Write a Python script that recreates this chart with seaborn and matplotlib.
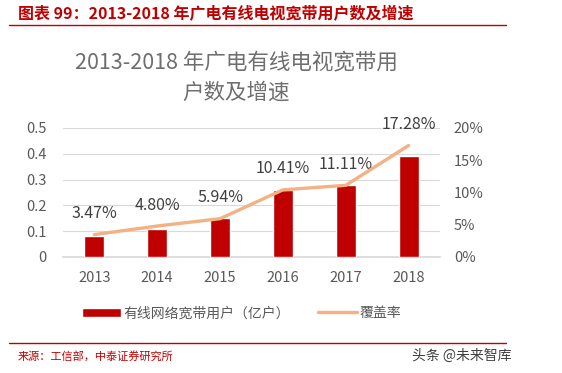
import matplotlib
matplotlib.use("Agg")
import matplotlib.pyplot as plt
import seaborn as sns
import pandas as pd
from matplotlib.patches import Patch
from matplotlib.lines import Line2D

# Dados
anos = ["2013", "2014", "2015", "2016", "2017", "2018"]
usuarios = [0.08, 0.11, 0.15, 0.26, 0.28, 0.39]          # 亿户
cobertura = [3.47, 4.80, 5.94, 10.41, 11.11, 17.28]      # %
ticks_esq = [0, 0.1, 0.2, 0.3, 0.4, 0.5]
ticks_esq_txt = ["0", "0.1", "0.2", "0.3", "0.4", "0.5"]
ticks_dir = [0, 5, 10, 15, 20]

df = pd.DataFrame({"ano": anos, "usuarios": usuarios, "cobertura": cobertura})

sns.set_theme(style="white")
plt.rcParams["font.family"] = ["Noto Sans CJK SC", "DejaVu Sans"]

cinza = "#595959"
vermelho = "#C00000"
laranja = "#F4B183"

fig = plt.figure(figsize=(5.62, 3.73), dpi=100)
ax = fig.add_axes([0.112, 0.311, 0.671, 0.346])

sns.barplot(data=df, x="ano", y="usuarios", color=vermelho, width=0.32,
            saturation=1, ax=ax, zorder=3)
ax.set_ylim(0, 0.5)
ax.set_yticks(ticks_esq)
ax.set_yticklabels(ticks_esq_txt)
ax.grid(True, axis="y", color="#D9D9D9", linewidth=0.8, zorder=0)
ax.set_axisbelow(True)
ax.set_xlabel("")
ax.set_ylabel("")
ax.set_xlim(-0.5, 5.5)
for s in ["top", "right", "left"]:
    ax.spines[s].set_visible(False)
ax.spines["bottom"].set_color("#D9D9D9")
ax.tick_params(axis="both", length=0, labelsize=10.5, colors=cinza)
ax.tick_params(axis="x", pad=10)
ax.tick_params(axis="y", pad=12)

ax2 = ax.twinx()
sns.lineplot(x=list(range(len(anos))), y=cobertura, color=laranja, linewidth=2.4,
             ax=ax2, zorder=4)
ax2.set_ylim(0, 20)
ax2.set_yticks(ticks_dir)
ax2.set_yticklabels([f"{t}%" for t in ticks_dir])
ax2.tick_params(axis="y", length=0, labelsize=10.5, colors=cinza, pad=10)
for s in ["top", "right", "left", "bottom"]:
    ax2.spines[s].set_visible(False)
ax2.grid(False)

for i, v in enumerate(cobertura):
    ax2.annotate(f"{v:.2f}%", (i, v), xytext=(0, 15), textcoords="offset points",
                 ha="center", va="center", fontsize=11.5, color="#404040")

# Títulos
fig.text(0.032, 0.962, "图表 99：2013-2018 年广电有线电视宽带用户数及增速",
         fontsize=11.5, fontweight="bold", style="italic", color=vermelho,
         ha="left", va="center")
fig.add_artist(Line2D([0.016, 0.9], [0.932, 0.932], color=vermelho, linewidth=1))
fig.text(0.42, 0.833, "2013-2018 年广电有线电视宽带用", fontsize=15.5, color="#6E6E6E",
         ha="center", va="center")
fig.text(0.42, 0.752, "户数及增速", fontsize=15.5, color="#6E6E6E",
         ha="center", va="center")

# Legenda
handles = [Patch(facecolor=vermelho, label="有线网络宽带用户（亿户）"),
           Line2D([0], [0], color=laranja, linewidth=2.4, label="覆盖率")]
fig.legend(handles=handles, loc="center", bbox_to_anchor=(0.43, 0.16), ncol=2,
           frameon=False, fontsize=10, labelcolor=cinza, handlelength=2.8,
           handletextpad=0.2, columnspacing=2.0)

fig.add_artist(Line2D([0.016, 0.9], [0.08, 0.08], color=vermelho, linewidth=1))
fig.text(0.032, 0.045, "来源：工信部，中泰证券研究所", fontsize=8, color=vermelho,
         ha="left", va="center")
fig.text(0.91, 0.045, "头条 @未来智库", fontsize=10, color="#404040",
         ha="right", va="center")

fig.savefig("out.png", dpi=100, facecolor="white")
